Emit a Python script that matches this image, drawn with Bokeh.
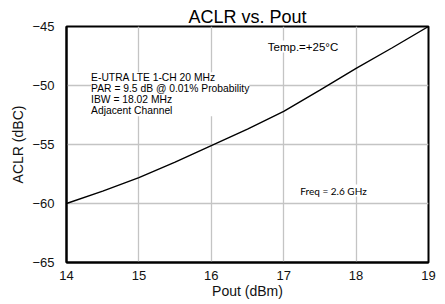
from bokeh.plotting import figure
from bokeh.models import Label, FixedTicker, Range1d
from bokeh.embed import file_html
from bokeh.resources import INLINE

pout = [14.0, 14.5, 15.0, 15.5, 16.0, 16.5, 17.0, 17.5, 18.0, 18.5, 19.0]
aclr = [-60.0, -58.95, -57.8, -56.5, -55.1, -53.7, -52.2, -50.4, -48.55, -46.8, -45.0]
x_ticks = [14, 15, 16, 17, 18, 19]
y_ticks = [-65, -60, -55, -50, -45]

p = figure(width=437, height=302, output_backend="svg", toolbar_location=None,
           x_range=Range1d(14, 19), y_range=Range1d(-65, -45),
           min_border_left=66, min_border_right=9, min_border_bottom=40, min_border_top=26)
p.title.text = "ACLR vs. Pout"
p.title.align = "center"
p.title.text_font = "Liberation Sans"
p.title.text_font_size = "18px"
p.title.text_font_style = "normal"
p.title.text_color = "black"
p.title.standoff = 0

p.line(pout, aclr, line_color="black", line_width=1.4)

for ax in (p.xaxis[0], p.yaxis[0]):
    ax.major_label_text_font = "Liberation Sans"
    ax.major_label_text_font_size = "13px"
    ax.major_label_text_color = "#111111"
    ax.axis_label_text_font = "Liberation Sans"
    ax.axis_label_text_font_size = "14px"
    ax.axis_label_text_font_style = "normal"
    ax.axis_label_text_color = "#111111"
    ax.major_tick_line_color = None
    ax.minor_tick_line_color = None
    ax.major_tick_out = 0
    ax.minor_tick_out = 0
    ax.major_tick_in = 0
    ax.minor_tick_in = 0
    ax.axis_line_color = "black"
    ax.axis_line_width = 2
p.xaxis.ticker = FixedTicker(ticks=x_ticks)
p.yaxis.ticker = FixedTicker(ticks=y_ticks)
p.xaxis.axis_label = "Pout (dBm)"
p.yaxis.axis_label = "ACLR (dBC)"
p.xaxis.axis_label_standoff = 0
p.yaxis.axis_label_standoff = 3
p.xaxis.major_label_standoff = 8
p.yaxis.major_label_standoff = 12

p.xgrid.grid_line_color = "#c4c4c4"
p.ygrid.grid_line_color = "#c4c4c4"
p.xgrid.grid_line_width = 1.3
p.ygrid.grid_line_width = 1.3
p.outline_line_color = "black"
p.outline_line_width = 2

p.add_layout(Label(x=16.78, y=-46.7, text="Temp.=+25°C", text_font="Liberation Sans",
                   text_font_size="11.5px", text_baseline="middle", text_color="black",
                   background_fill_color="white"))
lines = ["E-UTRA LTE 1-CH 20 MHz", "PAR = 9.5 dB @ 0.01% Probability",
         "IBW = 18.02 MHz", "Adjacent Channel"]
p.add_layout(Label(x=14.34, y=-50.75, text="\n".join(lines), text_font="Liberation Sans",
                   text_font_size="10.3px", text_baseline="middle", text_line_height=1.0,
                   text_color="black", background_fill_color="white"))
p.add_layout(Label(x=17.23, y=-58.9, text="Freq = 2.6 GHz", text_font="Lato",
                   text_font_size="10px", text_baseline="middle", text_color="black",
                   background_fill_color="white"))

open("out.html", "w").write(file_html(p, INLINE))
